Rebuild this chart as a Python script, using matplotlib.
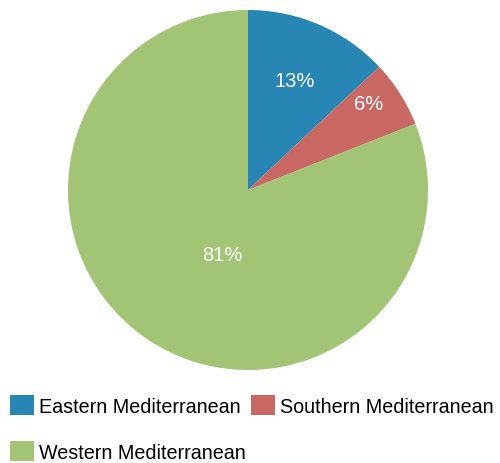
import matplotlib
matplotlib.use("Agg")
import matplotlib.pyplot as plt
from matplotlib.patches import Patch

regions = ["Eastern Mediterranean", "Southern Mediterranean", "Western Mediterranean"]
shares = [13, 6, 81]
colors = ["#2886b5", "#c96862", "#a1c475"]
# label spots (pie radius = 1)
label_xy = [(0.26, 0.61), (0.67, 0.48), (-0.14, -0.36)]

plt.rcParams["font.family"] = ["Liberation Sans", "DejaVu Sans"]

fig = plt.figure(figsize=(5, 4.64), dpi=100)
ax = fig.add_axes([68 / 500, 93 / 464, 360 / 500, 360 / 464])
wedges, texts, autotexts = ax.pie(
    shares, colors=colors, startangle=90, counterclock=False,
    autopct=lambda p: f"{p:.0f}%", radius=1,
    textprops=dict(color="white", fontsize=14.5),
)
for t, (x, y) in zip(autotexts, label_xy):
    t.set_position((x, y))
ax.set_xlim(-1, 1)
ax.set_ylim(-1, 1)
ax.set_aspect("equal")

# legend fills column-wise; reorder so rows read E, S / W
order = [0, 2, 1]
handles = [Patch(facecolor=colors[i], edgecolor="none") for i in order]
fig.legend(handles, [regions[i] for i in order], ncol=2, loc="upper left",
           bbox_to_anchor=(10 / 500, 1 - 396 / 464), frameon=False,
           fontsize=14.2, handlelength=1.2, handleheight=1.2,
           handletextpad=0.25, columnspacing=0.3, labelspacing=1.28,
           borderaxespad=0, borderpad=0)

fig.savefig("out.png", dpi=100)
